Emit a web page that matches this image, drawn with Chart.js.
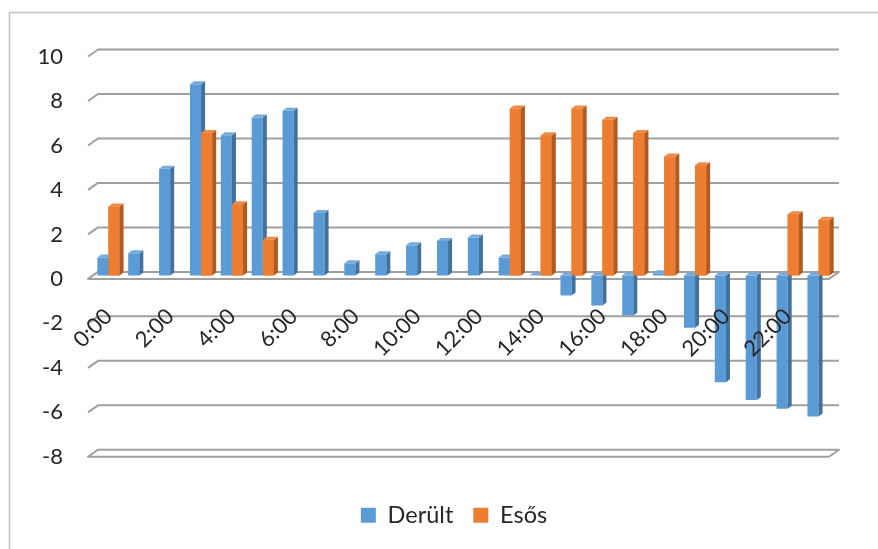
<!DOCTYPE html>
<html><head><meta charset="utf-8">
<script src="https://cdn.jsdelivr.net/npm/chart.js@4/dist/chart.umd.min.js"></script>
<style>html,body{margin:0;padding:0;background:#fff}#wrap{position:relative;width:878px;height:549px}</style>
</head><body><div id="wrap"><canvas id="c" width="878" height="549"></canvas></div>
<script>
const categories = ["0:00","1:00","2:00","3:00","4:00","5:00","6:00","7:00","8:00","9:00","10:00","11:00",
  "12:00","13:00","14:00","15:00","16:00","17:00","18:00","19:00","20:00","21:00","22:00","23:00"];
const tickLabels = ["0:00","2:00","4:00","6:00","8:00","10:00","12:00","14:00","16:00","18:00","20:00","22:00"];
const derult = [0.8, 1.0, 4.8, 8.6, 6.3, 7.1, 7.4, 2.8, 0.55, 0.95, 1.35, 1.55,
  1.7, 0.8, 0, -0.9, -1.35, -1.8, 0.1, -2.35, -4.8, -5.6, -6.0, -6.35];
const esos = [3.1, null, null, 6.4, 3.2, 1.6, null, null, null, null, null, null,
  null, 7.5, 6.3, 7.5, 7.0, 6.4, 5.35, 4.95, null, null, 2.75, 2.5];
const seriesNames = ["Derült", "Esős"];
const yTicks = {min: -8, max: 10, step: 2};

const FONT = "Lato";
const faceColors = ["#5B9BD5", "#ED7D31"];
const sideColors = ["#41719C", "#AE5A21"];
const topColors = ["#76AADB", "#EF8B49"];
const OFFX = 5, OFFY = 3.5, DX = 4, DY = -3;

function bar3d(ctx, el, di) {
  const w = el.width, l = el.x - w / 2, r = el.x + w / 2;
  const t = Math.min(el.y, el.base), b = Math.max(el.y, el.base);
  ctx.fillStyle = sideColors[di];
  ctx.beginPath(); ctx.moveTo(r, t); ctx.lineTo(r + DX, t + DY); ctx.lineTo(r + DX, b + DY); ctx.lineTo(r, b); ctx.closePath(); ctx.fill();
  ctx.fillStyle = topColors[di];
  ctx.beginPath(); ctx.moveTo(l, t); ctx.lineTo(l + DX, t + DY); ctx.lineTo(r + DX, t + DY); ctx.lineTo(r, t); ctx.closePath(); ctx.fill();
}

const plugin3d = {
  id: "plugin3d",
  beforeDraw(chart) {
    const ctx = chart.ctx;
    ctx.save(); ctx.strokeStyle = "#c0c0c0"; ctx.lineWidth = 1.5;
    ctx.beginPath(); ctx.moveTo(9.5, 549); ctx.lineTo(9.5, 12.5); ctx.lineTo(878, 12.5); ctx.stroke();
    ctx.restore();
  },
  beforeDatasetsDraw(chart) {
    const {ctx, chartArea: {left: L, right: R}, scales: {y}} = chart;
    ctx.save(); ctx.strokeStyle = "#a0a0a0"; ctx.lineWidth = 2; ctx.lineJoin = "round";
    y.ticks.forEach(t => {
      const v = t.value, py = y.getPixelForValue(v);
      ctx.beginPath();
      if (v === 0 || v === y.min) {
        ctx.moveTo(L - OFFX, py + OFFY); ctx.lineTo(R - OFFX, py + OFFY);
        ctx.lineTo(R + OFFX, py - OFFY); ctx.lineTo(L + OFFX, py - OFFY); ctx.closePath();
      } else {
        ctx.moveTo(L - OFFX, py + OFFY); ctx.lineTo(L + OFFX, py - OFFY); ctx.lineTo(R + OFFX, py - OFFY);
      }
      ctx.stroke();
    });
    ctx.restore();
  },
  afterDatasetsDraw(chart) {
    const ctx = chart.ctx;
    ctx.save();
    [0, 1].forEach(di => {
      const meta = chart.getDatasetMeta(di);
      const data = chart.data.datasets[di].data;
      meta.data.forEach((el, i) => {
        if (data[i] === null || el.skip) return;
        if (di === 1) el.draw(ctx);
        bar3d(ctx, el, di);
      });
    });
    ctx.restore();
  }
};

new Chart(document.getElementById("c"), {
  type: "bar",
  data: {
    labels: categories,
    datasets: [
      {label: seriesNames[0], data: derult, backgroundColor: faceColors[0], borderWidth: 0},
      {label: seriesNames[1], data: esos, backgroundColor: faceColors[1], borderWidth: 0}
    ]
  },
  plugins: [plugin3d],
  options: {
    responsive: false, animation: false, events: [],
    layout: {padding: {top: 53, right: 0, bottom: 12, left: 30}},
    datasets: {bar: {categoryPercentage: 0.72, barPercentage: 1.0}},
    scales: {
      x: {
        position: {y: 0},
        grid: {display: false, drawTicks: false}, border: {display: false},
        ticks: {z: 1, autoSkip: false, maxRotation: 45, minRotation: 45, padding: 28, color: "#262626",
          font: {family: FONT, size: 22},
          callback: function(v, i) { const c = categories[i]; return tickLabels.includes(c) ? c : ""; }}
      },
      y: {
        min: yTicks.min, max: yTicks.max,
        grid: {display: false, drawTicks: false}, border: {display: false},
        afterFit(scale) { scale.width = 63; },
        ticks: {stepSize: yTicks.step, padding: 30, labelOffset: 3.5, color: "#262626", font: {family: FONT, size: 22}}
      },
      yRight: {
        position: "right", min: yTicks.min, max: yTicks.max,
        grid: {display: false}, border: {display: false},
        ticks: {display: false},
        afterFit(scale) { scale.width = 44; }
      }
    },
    plugins: {
      tooltip: {enabled: false},
      legend: {
        position: "bottom",
        title: {display: true, text: " ", font: {size: 1}, padding: {top: 29, bottom: 0}},
        labels: {boxWidth: 15, boxHeight: 15, padding: 20, color: "#262626", font: {family: FONT, size: 23.5}}
      }
    }
  }
});
</script></body></html>
